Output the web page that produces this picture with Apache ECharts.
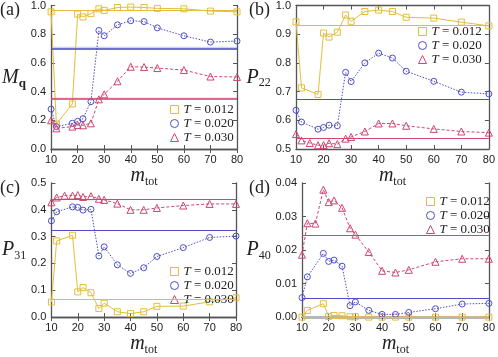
<!DOCTYPE html>
<html>
<head>
<meta charset="utf-8">
<script src="https://cdn.jsdelivr.net/npm/echarts@6/dist/echarts.min.js"></script>
<style>
  html, body { margin: 0; padding: 0; background: #fff; }
  #chart { width: 498px; height: 357px; }
</style>
</head>
<body>
<div id="chart"></div>
<script>
// m_tot values (the T = 0.030 curve has an extra point at 15 in panels b-d)
const mTot = [10, 12, 18, 20, 22, 25, 28, 30, 35, 40, 45, 50, 60, 70, 80]
const mTotRed = [10, 12, 15, 18, 20, 22, 25, 28, 30, 35, 40, 45, 50, 60, 70, 80]
const seriesNames = ['T = 0.012', 'T = 0.020', 'T = 0.030']

// (a) M_q
const yellowA = [0.956, 0.174, 0.314, 0.94, 0.92, 0.943, 0.977, 0.966, 0.986, 0.989, 0.986, 0.98, 0.977, 0.961, 0.956]
const blueA = [0.278, 0.156, 0.179, 0.193, 0.211, 0.33, 0.826, 0.789, 0.865, 0.894, 0.888, 0.844, 0.789, 0.745, 0.752]
const redA = [0.2, 0.144, 0.156, 0.167, 0.165, 0.179, 0.346, 0.381, 0.472, 0.573, 0.571, 0.564, 0.55, 0.505, 0.502]
const refA = [0.965, 0.702, 0.353]

// (b) P22
const yellowB = [0.943, 0.713, 0.69, 0.904, 0.89, 0.907, 0.967, 0.945, 0.979, 0.984, 0.979, 0.959, 0.956, 0.942, 0.929]
const blueB = [0.635, 0.594, 0.569, 0.575, 0.583, 0.581, 0.767, 0.735, 0.8, 0.834, 0.817, 0.771, 0.736, 0.698, 0.692]
const redB = [0.552, 0.53, 0.521, 0.513, 0.514, 0.52, 0.517, 0.536, 0.542, 0.561, 0.589, 0.589, 0.581, 0.57, 0.561, 0.557]
const refB = [0.932, 0.672, 0.537]

// (c) P31
const yellowC = [0.056, 0.284, 0.305, 0.094, 0.11, 0.091, 0.032, 0.052, 0.02, 0.013, 0.02, 0.04, 0.041, 0.057, 0.072]
const blueC = [0.359, 0.393, 0.411, 0.409, 0.399, 0.402, 0.228, 0.262, 0.195, 0.163, 0.184, 0.226, 0.259, 0.297, 0.302]
const redC = [0.428, 0.446, 0.453, 0.453, 0.455, 0.448, 0.451, 0.441, 0.437, 0.423, 0.4, 0.4, 0.407, 0.416, 0.422, 0.422]
const refC = [0.066, 0.322, 0.439]

// (d) P40
const yellowD = [0, 0.002, 0.004, 0.0002, 0.0005, 0.0004, 0.0001, 0.0001, 0, 0, 0, 0, 0, 0, 0]
const blueD = [0.0058, 0.012, 0.019, 0.0166, 0.017, 0.0152, 0.0034, 0.0045, 0.002, 0.0008, 0.0008, 0.0014, 0.0025, 0.0039, 0.0041]
const redD = [0.0186, 0.028, 0.0279, 0.038, 0.0343, 0.0348, 0.0326, 0.0265, 0.0246, 0.0194, 0.0138, 0.0133, 0.0141, 0.0165, 0.0174, 0.0174]
const refD = [0.0001, 0.0055, 0.0243]

const colors = ['#E3BE3A', '#4D4DCC', '#CF4670']
const symbols = ['rect', 'circle', 'triangle']
const lineTypes = ['solid', [1.5, 1.5], [3, 2]]
const serif = 'Liberation Serif'
const sans = 'Liberation Sans'
const frame = '#555'
const ink = '#222'

const panels = [
  {
    label: '(a)', labelPos: [0, 1],
    grid: { left: 41, top: 4, width: 196, height: 145 },
    y: [0, 1, 0.2, 1], yName: '{i|M}{b|q}', yGap: 7,
    data: [[mTot, yellowA], [mTot, blueA], [mTot, redA]], refs: refA, bands: [0, 0.01, 0.006],
    legend: { left: 170, top: 103 }
  },
  {
    label: '(b)', labelPos: [249, 1],
    grid: { left: 296, top: 4, width: 196, height: 145 },
    y: [0.5, 1, 0.1, 1], yName: '{i|P}{s|22}', yGap: 24,
    data: [[mTot, yellowB], [mTot, blueB], [mTotRed, redB]], refs: refB, bands: [0, 0, 0],
    legend: { left: 418, top: 25 }
  },
  {
    label: '(c)', labelPos: [0, 179],
    grid: { left: 41, top: 183, width: 195, height: 145 },
    y: [0, 0.5, 0.1, 1], yName: '{i|P}{s|31}', yGap: 9,
    data: [[mTot, yellowC], [mTot, blueC], [mTotRed, redC]], refs: refC, bands: [0, 0, 0],
    legend: { left: 170, top: 265 }
  },
  {
    label: '(d)', labelPos: [249, 179],
    grid: { left: 302, top: 183, width: 190, height: 145 },
    y: [0, 0.04, 0.01, 2], yName: '{i|P}{s|40}', yGap: 28,
    data: [[mTot, yellowD], [mTot, blueD], [mTotRed, redD]], refs: refD, bands: [0, 0, 0],
    legend: { left: 426, top: 195 }
  }
]

const nameRich = {
  i: { fontFamily: serif, fontStyle: 'italic', fontSize: 20, color: ink },
  s: { fontFamily: serif, fontSize: 12, color: ink, padding: [12, 0, 0, 0] },
  b: { fontFamily: serif, fontWeight: 'bold', fontSize: 13, color: ink, padding: [12, 0, 0, 0] }
}

const option = {
  animation: false,
  backgroundColor: '#fff',
  title: [],
  legend: [],
  grid: [],
  xAxis: [],
  yAxis: [],
  series: []
}

panels.forEach(function (p, k) {
  const names = seriesNames.map(function (n) { return n + ' '.repeat(k) })

  option.title.push({
    text: p.label, left: p.labelPos[0], top: p.labelPos[1], padding: 0,
    textStyle: { fontFamily: serif, fontSize: 18, fontWeight: 'normal', color: ink }
  })
  option.grid.push(p.grid)

  const tick = { show: true, inside: true, length: 4, lineStyle: { color: frame, width: 1 } }
  const line = { show: true, lineStyle: { color: frame, width: 1.3 } }
  // bottom + mirrored top
  option.xAxis.push({
    type: 'value', gridIndex: k, min: 10, max: 80, interval: 10,
    axisLine: line, axisTick: tick, splitLine: { show: false },
    axisLabel: { fontFamily: sans, fontSize: 11, color: ink, margin: 5 },
    name: '{i|m}{s|tot}', nameLocation: 'middle', nameGap: 13,
    nameTextStyle: { rich: nameRich }
  })
  option.xAxis.push({
    type: 'value', gridIndex: k, position: 'top', min: 10, max: 80, interval: 10,
    axisLine: line, axisTick: tick, axisLabel: { show: false }, splitLine: { show: false }
  })
  // left + mirrored right
  option.yAxis.push({
    type: 'value', gridIndex: k, min: p.y[0], max: p.y[1], interval: p.y[2],
    axisLine: line, axisTick: tick, splitLine: { show: false },
    axisLabel: {
      fontFamily: sans, fontSize: 11, color: ink, margin: 5,
      formatter: function (v) { return v.toFixed(p.y[3]) }
    },
    name: p.yName, nameLocation: 'middle', nameRotate: 0, nameGap: p.yGap,
    nameTextStyle: { rich: nameRich, align: 'right' }
  })
  option.yAxis.push({
    type: 'value', gridIndex: k, position: 'right', min: p.y[0], max: p.y[1], interval: p.y[2],
    axisLine: line, axisTick: tick, axisLabel: { show: false }, splitLine: { show: false }
  })

  p.data.forEach(function (d, j) {
    const pts = d[0].map(function (x, i) { return [x, d[1][i]] })
    const s = {
      name: names[j],
      type: 'line',
      xAxisIndex: 2 * k,
      yAxisIndex: 2 * k,
      data: pts,
      clip: false,
      symbol: symbols[j],
      symbolSize: j === 2 ? 7 : 6,
      itemStyle: { color: 'rgba(255,255,255,0)', borderColor: colors[j], borderWidth: 1 },
      lineStyle: { color: colors[j], width: 1, type: lineTypes[j] },
      markLine: {
        silent: true, symbol: ['none', 'none'], label: { show: false }, precision: 6,
        lineStyle: { color: colors[j], width: p.bands[j] ? 1.5 : 1, type: 'solid' },
        data: [{ yAxis: p.refs[j] }]
      },
      z: 3 + j
    }
    if (p.bands[j]) {
      s.markArea = {
        silent: true,
        itemStyle: { color: colors[j], opacity: 0.25 },
        data: [[{ yAxis: p.refs[j] - p.bands[j] }, { yAxis: p.refs[j] + p.bands[j] }]]
      }
    }
    option.series.push(s)
  })

  option.legend.push({
    left: p.legend.left, top: p.legend.top, orient: 'vertical',
    padding: 0, itemGap: 1, itemWidth: 8, itemHeight: 8,
    selectedMode: false,
    data: names.map(function (n, j) {
      return {
        name: n, icon: symbols[j],
        itemStyle: { color: 'rgba(255,255,255,0)', borderColor: colors[j], borderWidth: 1 }
      }
    }),
    formatter: function (n) { return '{i|T}' + n.trim().slice(1) },
    textStyle: {
      fontFamily: serif, fontSize: 13, color: ink,
      rich: { i: { fontFamily: serif, fontStyle: 'italic', fontSize: 13, color: ink } }
    }
  })
})

const chart = echarts.init(document.getElementById('chart'))
chart.setOption(option)
</script>
</body>
</html>
